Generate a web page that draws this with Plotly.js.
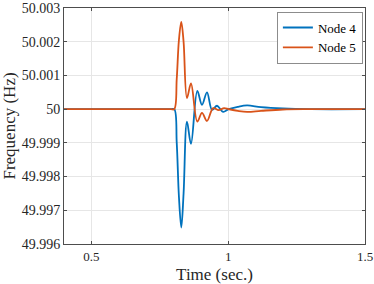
<!DOCTYPE html>
<html>
<head>
<meta charset="utf-8">
<script src="https://cdn.plot.ly/plotly-3.0.1.min.js"></script>
<style>html,body{margin:0;padding:0;background:#fff;}#chart{width:374px;height:284px;}</style>
</head>
<body>
<div id="chart"></div>
<script>
// Data
const timeNode4 = [0.4, 0.6, 0.79, 0.803, 0.812, 0.820, 0.8286, 0.837, 0.8494, 0.8641, 0.8872, 0.9043, 0.9226, 0.941, 0.9593, 0.9813, 1.0018, 1.035, 1.0692, 1.12, 1.2, 1.3, 1.5];
const freqNode4 = [50, 50, 50, 50, 49.9990, 49.99740, 49.99649, 49.99750, 49.99963, 49.99897, 50.00054, 50.00013, 50.00050, 49.99998, 50.00010, 49.99992, 50.0000, 50.00007, 50.00011, 50.00006, 50.00002, 50.0000, 50.0000];

const timeNode5 = [0.4, 0.6, 0.79, 0.803, 0.812, 0.820, 0.8286, 0.837, 0.8494, 0.8641, 0.8872, 0.9043, 0.9226, 0.945, 0.965, 0.985, 1.0018, 1.035, 1.0692, 1.12, 1.2, 1.3, 1.5];
const freqNode5 = [50, 50, 50, 50, 50.0009, 50.00205, 50.00259, 50.00200, 50.00033, 50.00076, 49.99963, 49.99989, 49.99965, 50.00003, 49.99997, 50.00003, 50.0000, 49.99995, 49.99992, 49.99995, 49.99999, 50.0000, 50.0000];

const seriesNames = ["Node 4", "Node 5"];
const yTickVals = [49.996, 49.997, 49.998, 49.999, 50, 50.001, 50.002, 50.003];
const yTickText = ["49.996", "49.997", "49.998", "49.999", "50", "50.001", "50.002", "50.003"];
const xTickVals = [0.5, 1, 1.5];
const xTickText = ["0.5", "1", "1.5"];

const font = "'Liberation Serif', 'DejaVu Serif', serif";
const axisColor = "#4d4d4d";

const traces = [
  {x: timeNode4, y: freqNode4, name: seriesNames[0], mode: "lines",
   line: {color: "#0072BD", width: 1.8, shape: "spline", smoothing: 1}},
  {x: timeNode5, y: freqNode5, name: seriesNames[1], mode: "lines",
   line: {color: "#D95319", width: 1.8, shape: "spline", smoothing: 1}}
];

const layout = {
  width: 374, height: 284,
  margin: {l: 64, r: 9, t: 8, b: 40},
  paper_bgcolor: "#fff", plot_bgcolor: "#fff",
  font: {family: font, size: 14, color: "#262626"},
  showlegend: true,
  legend: {x: 0.993, y: 0.985, xanchor: "right", yanchor: "top",
           bgcolor: "#fff", bordercolor: "#8c8c8c", borderwidth: 1,
           font: {family: font, size: 13, color: "#000"},
           tracegroupgap: 0, itemwidth: 30},
  xaxis: {
    range: [0.4, 1.5], tickvals: xTickVals, ticktext: xTickText,
    showgrid: true, gridcolor: "#e6e6e6", gridwidth: 1,
    zeroline: false, showline: true, linecolor: axisColor, linewidth: 1,
    mirror: "ticks", ticks: "inside", ticklen: 3, tickcolor: axisColor,
    ticklabeloverflow: "allow",
    tickfont: {family: font, size: 13, color: "#262626"},
    title: {text: "Time (sec.)", font: {family: font, size: 17, color: "#262626"}, standoff: 6}
  },
  yaxis: {
    range: [49.99599999, 50.00300001], tickvals: yTickVals, ticktext: yTickText,
    showgrid: true, gridcolor: "#e6e6e6", gridwidth: 1,
    zeroline: false, showline: true, linecolor: axisColor, linewidth: 1,
    mirror: "ticks", ticks: "inside", ticklen: 3, tickcolor: axisColor,
    ticklabeloverflow: "allow",
    tickfont: {family: font, size: 14, color: "#262626"},
    title: {text: "Frequency (Hz)", font: {family: font, size: 17, color: "#262626"}, standoff: 4}
  }
};

Plotly.newPlot("chart", traces, layout, {displayModeBar: false, staticPlot: true});
</script>
</body>
</html>
